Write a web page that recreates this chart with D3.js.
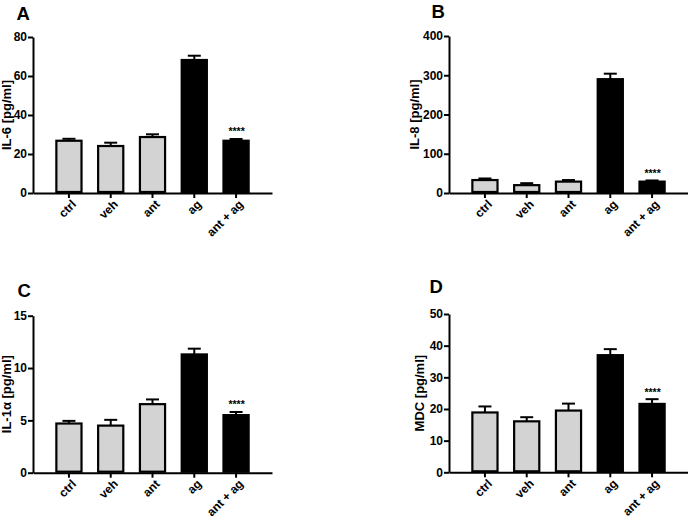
<!DOCTYPE html>
<html><head><meta charset="utf-8">
<script src="https://cdn.jsdelivr.net/npm/d3@7"></script>
<style>
html,body{margin:0;padding:0;background:#fff;}
svg text{font-family:"Liberation Sans",Arial,sans-serif;font-weight:bold;fill:#000;}
</style></head>
<body>
<svg id="chart" width="688" height="519"></svg>
<script>
const categories = ["ctrl", "veh", "ant", "ag", "ant + ag"];
const groupColors = ["#d3d3d3", "#d3d3d3", "#d3d3d3", "#000000", "#000000"];

const il6Mean = [26.8, 24.1, 28.7, 68.2, 26.8];
const il6Err  = [1.0, 1.7, 1.4, 2.2, 0.9];
const il6Ticks = [0, 20, 40, 60, 80];

const il8Mean = [33, 20, 29, 290, 29];
const il8Err  = [4, 5, 4, 14, 3];
const il8Ticks = [0, 100, 200, 300, 400];

const il1aMean = [4.7, 4.5, 6.55, 11.3, 5.5];
const il1aErr  = [0.25, 0.55, 0.45, 0.55, 0.3];
const il1aTicks = [0, 5, 10, 15];

const mdcMean = [18.9, 16.1, 19.5, 37.0, 21.6];
const mdcErr  = [1.9, 1.3, 2.2, 1.9, 1.5];
const mdcTicks = [0, 10, 20, 30, 40, 50];

const significance = ["", "", "", "", "****"];

const panels = [
  {letter:"A", lx:16.5, ly:20, label:"IL-6 [pg/ml]", labelX:6.5, mean:il6Mean, err:il6Err, ticks:il6Ticks,
   ax:33, xEnd:272, y0:193, yTop:37},
  {letter:"B", lx:431.5, ly:17.5, label:"IL-8 [pg/ml]", labelX:414.5, mean:il8Mean, err:il8Err, ticks:il8Ticks,
   ax:449, xEnd:688, y0:193, yTop:36},
  {letter:"C", lx:17.5, ly:297, label:"IL-1\u03b1 [pg/ml]", labelX:6.5, mean:il1aMean, err:il1aErr, ticks:il1aTicks,
   ax:33, xEnd:272, y0:472.7, yTop:315.7},
  {letter:"D", lx:429.5, ly:293, label:"MDC [pg/ml]", labelX:419.5, mean:mdcMean, err:mdcErr, ticks:mdcTicks,
   ax:449, xEnd:688, y0:472.3, yTop:314}
];

const svg = d3.select("#chart");

panels.forEach(p => {
  const g = svg.append("g");
  const x = d3.scaleBand().domain(categories).range([p.ax, p.xEnd]).paddingInner(0.35).paddingOuter(0.535);
  const y = d3.scaleLinear().domain([p.ticks[0], p.ticks[p.ticks.length-1]]).range([p.y0, p.yTop]);

  const data = categories.map((c,i) => ({c, m:p.mean[i], e:p.err[i], col:groupColors[i], s:significance[i]}));
  const eb = g.selectAll(".eb").data(data).enter().append("g");
  eb.append("line")
    .attr("x1", d => x(d.c) + x.bandwidth()/2).attr("x2", d => x(d.c) + x.bandwidth()/2)
    .attr("y1", d => y(d.m)).attr("y2", d => y(d.m + d.e))
    .attr("stroke", "#000").attr("stroke-width", 2);
  eb.append("line")
    .attr("x1", d => x(d.c) + x.bandwidth()/2 - 6.5).attr("x2", d => x(d.c) + x.bandwidth()/2 + 6.5)
    .attr("y1", d => y(d.m + d.e)).attr("y2", d => y(d.m + d.e))
    .attr("stroke", "#000").attr("stroke-width", 2);

  g.selectAll(".bar").data(data).enter().append("rect")
    .attr("x", d => x(d.c) + 1).attr("width", x.bandwidth() - 2)
    .attr("y", d => y(d.m)).attr("height", d => y(0) - y(d.m) - 1)
    .attr("fill", d => d.col).attr("stroke", "#000").attr("stroke-width", 2.2);

  g.selectAll(".sig").data(data.filter(d => d.s)).enter().append("text")
    .attr("x", d => x(d.c) + x.bandwidth()/2 + 0.5)
    .attr("y", d => y(d.m + d.e) - 3.5)
    .attr("text-anchor", "middle").attr("font-size", 10.5).text(d => d.s);

  const ya = g.append("g").attr("transform", `translate(${p.ax},0)`)
    .call(d3.axisLeft(y).tickValues(p.ticks).tickSize(5).tickSizeOuter(0).tickPadding(1));
  ya.select(".domain").attr("stroke-width", 2);
  ya.selectAll(".tick line").attr("stroke-width", 2);
  ya.selectAll(".tick text").attr("font-size", 12).attr("font-family", "Liberation Sans, Arial, sans-serif").attr("font-weight", "bold");

  const xa = g.append("g").attr("transform", `translate(0,${p.y0})`)
    .call(d3.axisBottom(x).tickSize(5).tickSizeOuter(0));
  xa.select(".domain").attr("stroke-width", 2);
  xa.selectAll(".tick line").attr("stroke-width", 2);
  xa.selectAll(".tick text")
    .attr("font-size", 12).attr("font-family", "Liberation Sans, Arial, sans-serif").attr("font-weight", "bold")
    .attr("text-anchor", "end").attr("y", 0).attr("dy", "0.35em")
    .attr("transform", "translate(5,9) rotate(-45)");

  g.append("text")
    .attr("transform", `translate(${p.labelX},${(p.y0 + p.yTop)/2}) rotate(-90)`)
    .attr("text-anchor", "middle").attr("dy", "0.35em").attr("font-size", 13)
    .text(p.label);

  g.append("text").attr("x", p.lx).attr("y", p.ly).attr("font-size", 18.5).text(p.letter);
});
</script>
</body></html>
